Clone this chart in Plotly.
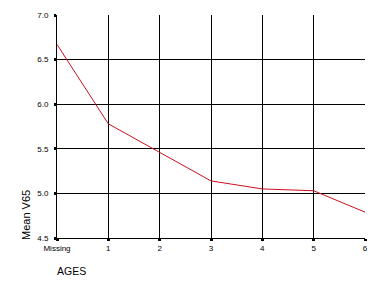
import plotly.graph_objects as go

categories = ["Missing", "1", "2", "3", "4", "5", "6"]
mean_v65 = [6.67, 5.78, 5.46, 5.14, 5.05, 5.03, 4.79]
y_ticks = [4.5, 5.0, 5.5, 6.0, 6.5, 7.0]

xpos = list(range(len(categories)))

L, R, T, B = 57, 15, 15, 46
W, H = 380, 284
pw, ph = W - L - R, H - T - B

def px_x(x):
    return (x - L) / pw

def px_y(y):
    return (H - B - y) / ph

fig = go.Figure()
fig.add_trace(go.Scatter(x=xpos, y=mean_v65, mode="lines",
                         line=dict(color="#cc1020", width=1), showlegend=False))

fnt = dict(family="Liberation Sans, Arial", size=8, color="black")
fig.update_layout(
    width=W, height=H,
    margin=dict(l=L, r=R, t=T, b=B),
    paper_bgcolor="white", plot_bgcolor="white",
    xaxis=dict(range=[0, 6], tickmode="array", tickvals=xpos, ticktext=categories,
               showgrid=True, gridcolor="black", gridwidth=1,
               showline=True, linecolor="black", linewidth=1,
               ticks="outside", ticklen=2, tickwidth=3, tickcolor="black",
               tickfont=fnt, zeroline=False, fixedrange=True),
    yaxis=dict(range=[4.5, 7.0], tickmode="array", tickvals=y_ticks,
               ticktext=[f"{v:.1f}" for v in y_ticks],
               showgrid=True, gridcolor="black", gridwidth=1,
               showline=True, linecolor="black", linewidth=1,
               ticks="outside", ticklen=2, tickwidth=3, tickcolor="black",
               tickfont=fnt, zeroline=False, ticklabelstandoff=4),
    annotations=[
        dict(text="Mean V65", x=px_x(26), y=px_y(215), xref="paper", yref="paper",
             xanchor="center", yanchor="middle",
             showarrow=False, textangle=-90,
             font=dict(family="Liberation Sans, Arial", size=11, color="black")),
        dict(text="AGES", x=px_x(55), y=px_y(271), xref="paper", yref="paper",
             xanchor="left", yanchor="middle", showarrow=False,
             font=dict(family="Liberation Sans, Arial", size=10.5, color="black")),
    ],
)
fig.write_html("out.html")
